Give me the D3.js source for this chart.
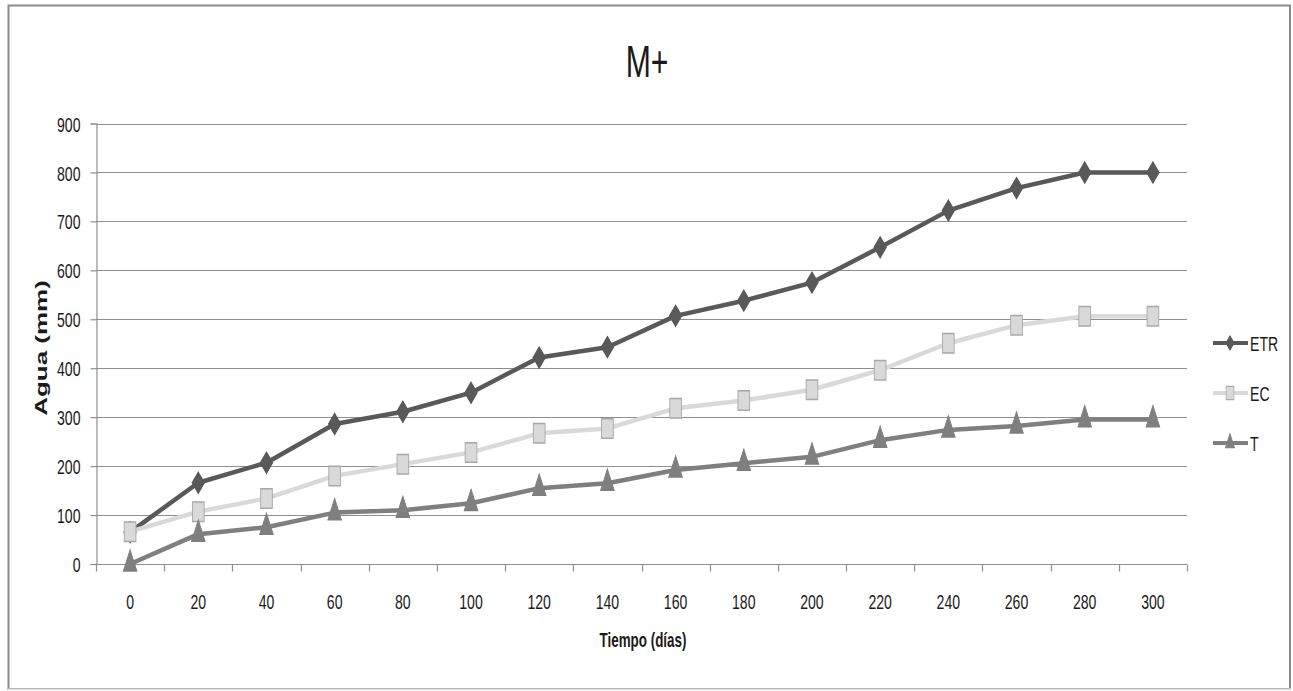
<!DOCTYPE html>
<html>
<head>
<meta charset="utf-8">
<script src="https://cdn.jsdelivr.net/npm/d3@7"></script>
<style>
  html, body { margin: 0; padding: 0; background: #fff; }
  svg { display: block; }
  text { font-family: "Liberation Sans", Arial, sans-serif; fill: #1a1a1a; }
</style>
</head>
<body>
<svg id="chart" width="1293" height="691"></svg>
<script>
// Days since start (category axis)
const days = [0, 20, 40, 60, 80, 100, 120, 140, 160, 180, 200, 220, 240, 260, 280, 300];

// Accumulated water (mm)
const etr = [65, 166, 207, 286, 311, 350, 422, 443, 507, 538, 575, 647, 722, 768, 800, 800];
const ec  = [66, 107, 134, 180, 204, 228, 267, 277, 318, 334, 356, 396, 451, 488, 506, 506];
const t   = [0, 61, 75, 105, 110, 124, 155, 165, 192, 206, 219, 253, 274, 282, 295, 295];

const seriesNames = ["ETR", "EC", "T"];
const yTicks = [0, 100, 200, 300, 400, 500, 600, 700, 800, 900];

const title = "M+";
const xTitle = "Tiempo (días)";
const yTitle = "Agua (mm)";

// Horizontal squeeze applied to every glyph and marker (narrow rendering)
const SX = 0.67;

const svg = d3.select("#chart");

// outer frame
svg.append("rect")
  .attr("x", 8.5).attr("y", 5.5).attr("width", 1281.5).attr("height", 683.5)
  .attr("fill", "#fff").attr("stroke", "#8c8c8c").attr("stroke-width", 2);
svg.append("line")
  .attr("x1", 8).attr("x2", 1291).attr("y1", 689.5).attr("y2", 689.5)
  .attr("stroke", "#e6e6e6").attr("stroke-width", 2);

const plot = { left: 96, right: 1187, top: 123.5, bottom: 564 };

const x = d3.scaleBand().domain(days).range([plot.left, plot.right]).padding(0);
const cx = d => x(d) + x.bandwidth() / 2;
const y = d3.scaleLinear().domain([0, 900]).range([plot.bottom, plot.top]);

// gridlines
svg.append("g")
  .selectAll("line").data(yTicks.filter(v => v > 0)).join("line")
  .attr("x1", plot.left).attr("x2", plot.right)
  .attr("y1", d => Math.round(y(d)) + 0.5).attr("y2", d => Math.round(y(d)) + 0.5)
  .attr("stroke", "#8e8e8e").attr("stroke-width", 1.2);

// y axis
const yAxis = svg.append("g").attr("transform", `translate(${plot.left + 0.5},0)`)
  .call(d3.axisLeft(y).tickValues(yTicks).tickSize(6).tickPadding(10).tickFormat(d3.format("d")));
yAxis.select(".domain").attr("stroke", "#8e8e8e").attr("stroke-width", 1.2);
yAxis.selectAll(".tick line").attr("stroke", "#8e8e8e").attr("stroke-width", 1.2);
yAxis.selectAll(".tick text")
  .attr("font-size", 21).attr("fill", "#1a1a1a").attr("dy", "0.36em")
  .attr("x", null)
  .attr("text-anchor", "end")
  .attr("transform", `translate(-16,0) scale(${SX},1)`);

// x axis with ticks at category boundaries
const xg = svg.append("g").attr("transform", `translate(0,${plot.bottom + 0.5})`);
xg.append("line").attr("x1", plot.left).attr("x2", plot.right)
  .attr("stroke", "#8e8e8e").attr("stroke-width", 1.2);
const bounds = days.map(d => x(d)).concat([plot.right]);
xg.selectAll("line.tk").data(bounds).join("line").attr("class", "tk")
  .attr("x1", d => Math.round(d) + 0.5).attr("x2", d => Math.round(d) + 0.5)
  .attr("y1", 0).attr("y2", 7)
  .attr("stroke", "#8e8e8e").attr("stroke-width", 1.2);
xg.selectAll("text").data(days).join("text")
  .attr("transform", d => `translate(${cx(d)},44) scale(${SX},1)`)
  .attr("text-anchor", "middle").attr("font-size", 21)
  .text(d => d);

// titles
svg.append("text")
  .attr("transform", `translate(647,77) scale(${SX},1)`)
  .attr("text-anchor", "middle").attr("font-size", 45)
  .attr("fill", "#000")
  .text(title);

svg.append("text")
  .attr("transform", `translate(643,647) scale(${SX},1)`)
  .attr("text-anchor", "middle").attr("font-size", 20).attr("font-weight", "bold")
  .text(xTitle);

svg.append("text")
  .attr("transform", `translate(47,348) rotate(-90) scale(1,${SX})`)
  .attr("text-anchor", "middle").attr("font-size", 26).attr("font-weight", "bold")
  .text(yTitle);

// series: symbol sizes give ~12x20 px markers after the horizontal squeeze
const series = [
  { name: seriesNames[0], values: etr, color: "#595959", symbol: d3.symbolDiamond, fill: "#595959", stroke: "#595959", msize: 120, msx: 1.0 },
  { name: seriesNames[1], values: ec,  color: "#d9d9d9", symbol: d3.symbolSquare,  fill: "#d9d9d9", stroke: "#a8a8a8", msize: 380, msx: 0.6 },
  { name: seriesNames[2], values: t,   color: "#7f7f7f", symbol: d3.symbolTriangle, fill: "#7f7f7f", stroke: "#7f7f7f", msize: 260, msx: 0.55 }
];

const line = d3.line().x(d => cx(d.day)).y(d => y(d.v));

// drawn in series order: later series sit on top
series.forEach(s => {
  const pts = days.map((d, i) => ({ day: d, v: s.values[i] }));
  const g = svg.append("g");
  g.append("path").datum(pts)
    .attr("d", line).attr("fill", "none")
    .attr("stroke", s.color).attr("stroke-width", 4.5)
    .attr("stroke-linejoin", "round").attr("stroke-linecap", "round");
  g.selectAll("path.m").data(pts).join("path").attr("class", "m")
    .attr("d", d3.symbol(s.symbol, s.msize))
    .attr("transform", d => `translate(${cx(d.day)},${y(d.v)}) scale(${s.msx},1)`)
    .attr("fill", s.fill).attr("stroke", s.stroke).attr("stroke-width", 1.5);
});

// legend
const legendY = [343, 393, 443];
const lg = svg.append("g");
series.forEach((s, i) => {
  const ly = legendY[i];
  lg.append("line").attr("x1", 1213).attr("x2", 1248).attr("y1", ly).attr("y2", ly)
    .attr("stroke", s.color).attr("stroke-width", 4);
  lg.append("path")
    .attr("d", d3.symbol(s.symbol, s.msize * 0.45))
    .attr("transform", `translate(1230,${ly}) scale(${s.msx},1)`)
    .attr("fill", s.fill).attr("stroke", s.stroke).attr("stroke-width", 1.2);
  lg.append("text")
    .attr("transform", `translate(1250,${ly}) scale(${SX},1)`)
    .attr("dy", "0.36em").attr("font-size", 21)
    .text(s.name);
});
</script>
</body>
</html>
